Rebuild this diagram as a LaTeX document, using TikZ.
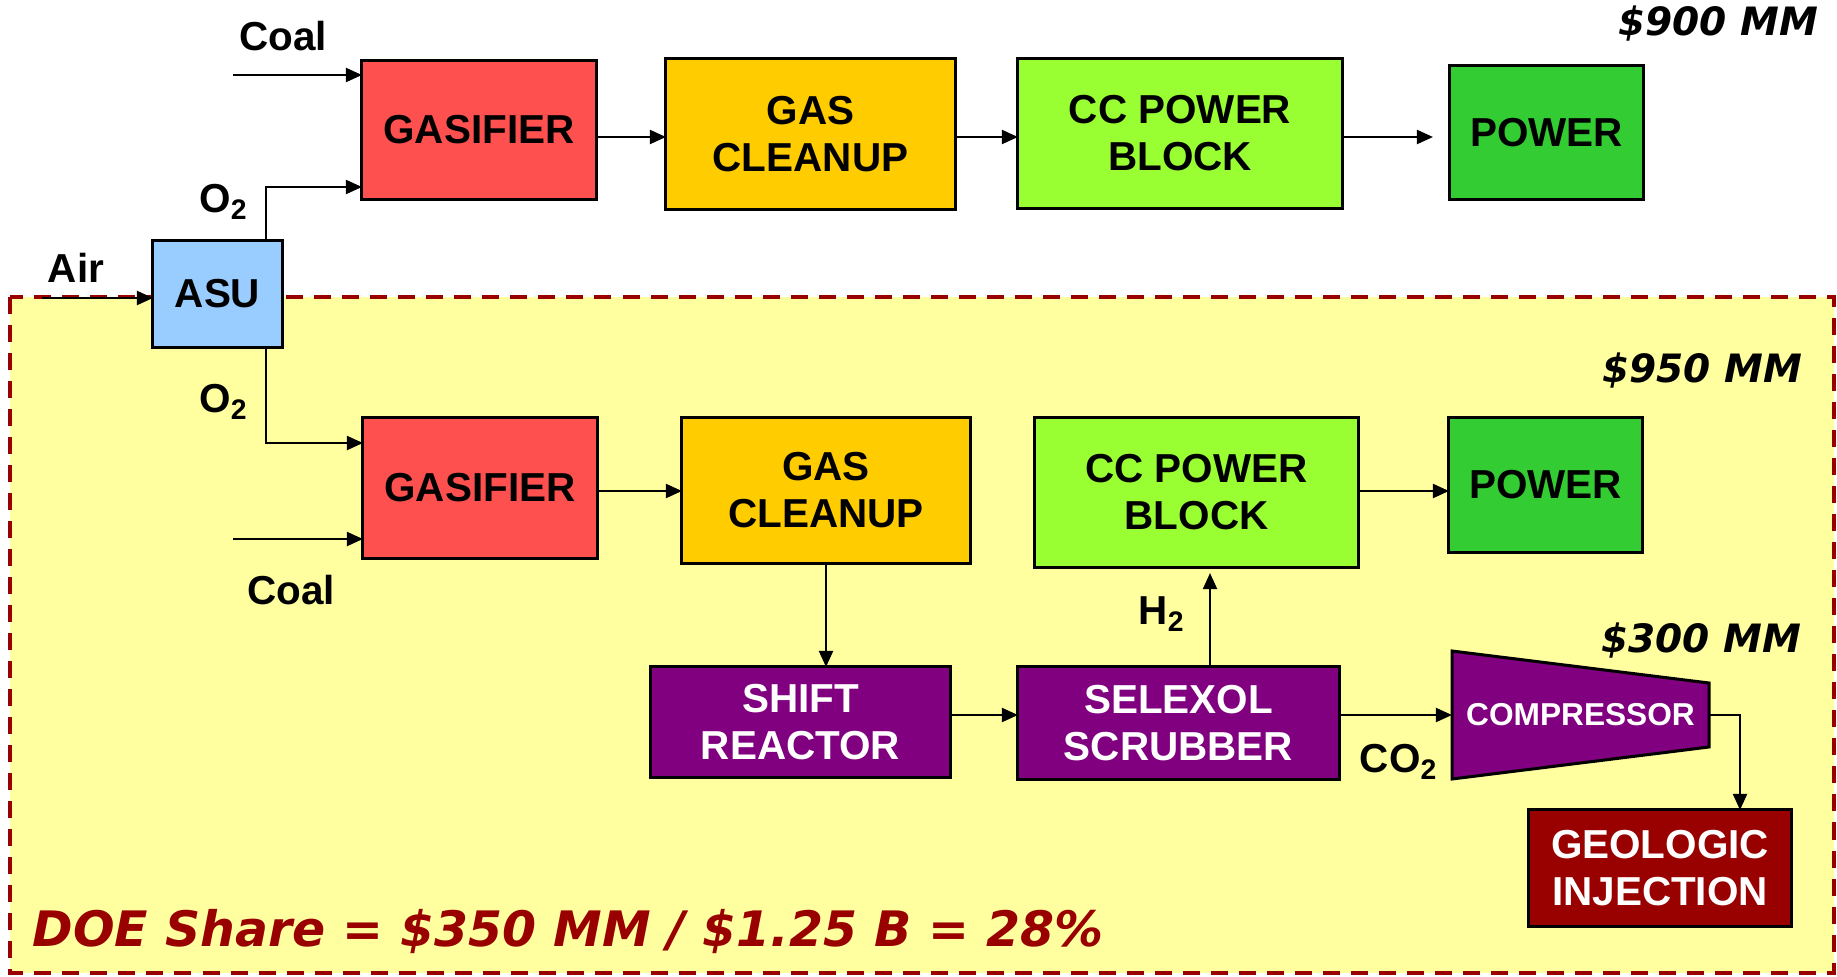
\documentclass[tikz,border=0pt]{standalone}
\usepackage{fontspec}
\setmainfont{Liberation Sans}
\newfontfamily\costfont{DejaVu Sans}
\usepackage{xcolor}
\usepackage{tikz}
\usetikzlibrary{arrows.meta}

\definecolor{gasred}{HTML}{FF5050}
\definecolor{cleanyel}{HTML}{FFCC00}
\definecolor{ccgreen}{HTML}{99FF33}
\definecolor{powgreen}{HTML}{33CC33}
\definecolor{asublue}{HTML}{99CCFF}
\definecolor{purp}{HTML}{800080}
\definecolor{geored}{HTML}{990000}
\definecolor{zonefill}{HTML}{FFFFA0}

\begin{document}
\begin{tikzpicture}[
  x=0.01cm, y=-0.01cm,
  unit/.style={rectangle, draw=black, line width=0.03cm, inner sep=0pt,
               outer sep=0pt, align=center,
               font=\fontsize{11.5}{13.4}\selectfont\bfseries},
  tag/.style={inner sep=0pt, font=\fontsize{11.5}{13.4}\selectfont\bfseries},
  cost/.style={inner sep=0pt, font=\costfont\fontsize{11.1}{13}\selectfont\bfseries\itshape},
  zonebox/.style={draw=geored, fill=zonefill, line width=0.04cm,
                  dash pattern=on 0.17cm off 0.11cm},
  arr/.style={-{Triangle[length=0.16cm,width=0.14cm]}, line width=0.02cm, black}
]
\useasboundingbox (0,0) rectangle (1837,976);
% capture zone
\path[zonebox] (10,297) rectangle (1834,973);

% reference plant
\node[unit, fill=asublue, minimum width=1.29cm, minimum height=1.06cm] (asu) at (217.5,294) {ASU};
\node[unit, fill=gasred, minimum width=2.34cm, minimum height=1.38cm] (gas1) at (479,130) {GASIFIER};
\node[unit, fill=cleanyel, minimum width=2.89cm, minimum height=1.50cm] (clean1) at (810.5,134) {GAS\\CLEANUP};
\node[unit, fill=ccgreen, minimum width=3.24cm, minimum height=1.49cm] (cc1) at (1180,133.5) {CC POWER\\BLOCK};
\node[unit, fill=powgreen, minimum width=1.93cm, minimum height=1.33cm] (pow1) at (1546.5,132.5) {POWER};

% capture plant
\node[unit, fill=gasred, minimum width=2.34cm, minimum height=1.40cm] (gas2) at (480,488) {GASIFIER};
\node[unit, fill=cleanyel, minimum width=2.88cm, minimum height=1.45cm] (clean2) at (826,490.5) {GAS\\CLEANUP};
\node[unit, fill=ccgreen, minimum width=3.23cm, minimum height=1.49cm] (cc2) at (1196.5,492.5) {CC POWER\\BLOCK};
\node[unit, fill=powgreen, minimum width=1.93cm, minimum height=1.34cm] (pow2) at (1545.5,485) {POWER};
\node[unit, fill=purp, text=white, minimum width=2.99cm, minimum height=1.10cm] (shift) at (800.5,722) {SHIFT\\REACTOR};
\node[unit, fill=purp, text=white, minimum width=3.21cm, minimum height=1.12cm] (selex) at (1178.5,723) {SELEXOL\\SCRUBBER};
\draw[fill=purp, line width=0.03cm] (1452,651) -- (1709,683) -- (1709,747) -- (1452,779) -- cycle;
\node[inner sep=0pt, outer sep=0pt, minimum width=2.57cm, minimum height=0.64cm, text=white,
      font=\fontsize{9}{11}\selectfont\bfseries] (comp) at (1580.5,715) {COMPRESSOR};
\node[unit, fill=geored, text=white, minimum width=2.62cm, minimum height=1.16cm] (geo) at (1660,868) {GEOLOGIC\\INJECTION};

% stream labels
\node[tag] (coalA) at (283,36) {Coal};
\node[tag] (o2A) at (224,202) {O\textsubscript{2}};
\node[tag] (airL) at (76,268) {Air};
\node[tag] (o2B) at (224,402) {O\textsubscript{2}};
\node[tag] (coalB) at (291,590) {Coal};
\node[tag] (h2L) at (1162,614) {H\textsubscript{2}};
\node[tag] (co2L) at (1399,762) {CO\textsubscript{2}};

% costs
\node[cost, anchor=east] (c900) at (1819,24) {\$900 MM};
\node[cost, anchor=east] (c950) at (1803,371) {\$950 MM};
\node[cost, anchor=east] (c300) at (1802,641) {\$300 MM};
\node[cost, anchor=base west, text=geored, font=\costfont\fontsize{13.9}{16}\selectfont\bfseries\itshape]
  (doe) at (32,946) {DOE Share = \$350 MM / \$1.25 B = 28\%};

% connectors
\coordinate (air) at (42,298);
\coordinate (coal1) at (233,75);
\coordinate (coal2) at (233,539);
\coordinate (o2a) at (266,187);
\coordinate (o2b) at (266,443);
\coordinate (row1) at (0,137);
\coordinate (row2) at (0,491);
\coordinate (row3) at (0,715);
\coordinate (h2x) at (1210,0);
\coordinate (dropx) at (1740,0);

\draw[arr] (air) -- (asu.west |- air);
\draw[arr] (coal1) -- (gas1.west |- coal1);
\draw[arr] (asu.north -| o2a) |- (gas1.west |- o2a);
\draw[arr] (gas1.east |- row1) -- (clean1.west |- row1);
\draw[arr] (clean1.east |- row1) -- (cc1.west |- row1);
\draw[arr, shorten >=0.17cm] (cc1.east |- row1) -- (pow1.west |- row1);

\draw[arr] (asu.south -| o2b) |- (gas2.west |- o2b);
\draw[arr] (coal2) -- (gas2.west |- coal2);
\draw[arr] (gas2.east |- row2) -- (clean2.west |- row2);
\draw[arr] (cc2.east |- row2) -- (pow2.west |- row2);
\draw[arr] (clean2.south) -- (clean2.south |- shift.north);
\draw[arr] (shift.east |- row3) -- (selex.west |- row3);
\draw[arr, shorten >=0.06cm] (selex.north -| h2x) -- (cc2.south -| h2x);
\draw[arr] (selex.east |- row3) -- (comp.west);
\draw[arr] (comp.east) -| (dropx |- geo.north);
\end{tikzpicture}
\end{document}
